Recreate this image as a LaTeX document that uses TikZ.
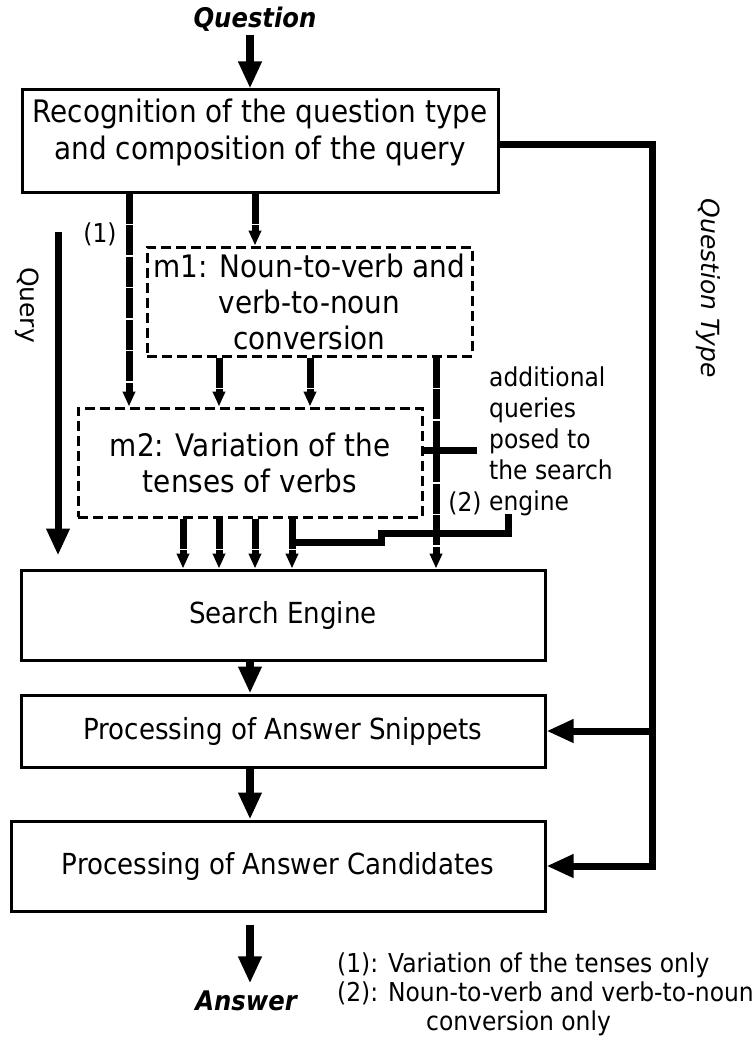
\documentclass[tikz,border=0pt]{standalone}
\usepackage{fontspec}
\setmainfont{DejaVu Sans}[FakeStretch=0.9]
\newfontfamily\vertfont{DejaVu Sans}
\usetikzlibrary{arrows.meta}

\tikzset{
  block/.style={draw, line width=3pt, inner sep=0pt, align=center, font=\fontsize{29}{36}\selectfont},
  dblock/.style={block, dash pattern=on 10pt off 5pt, font=\fontsize{31}{36}\selectfont},
  btext/.style={align=center, inner sep=0pt, font=\fontsize{31}{37}\selectfont},
  small/.style={align=left, inner sep=0pt, font=\fontsize{26}{31}\selectfont},
  io/.style={font=\fontsize{27}{30}\selectfont\bfseries\itshape},
  bigarrow/.style={line width=8pt, -{Triangle[length=27pt,width=22pt]}},
  darrow/.style={line width=7pt, dash pattern=on 30pt off 1.5pt, -{Triangle[length=15pt,width=12pt]}},
  wire/.style={line width=7pt}
}

\begin{document}
\begin{tikzpicture}[x=1pt,y=-1pt]
\useasboundingbox (0,0) rectangle (752,1038);

% blocks
\node[block, minimum width=476pt, minimum height=102pt] (rec) at (260,141) {};
\node[btext] (rectxt) at (260,132) {Recognition of the question type\\and composition of the query};
\node[dblock, minimum width=325pt, minimum height=109pt] (mone) at (309.5,301.5) {m1: Noun-to-verb and\\verb-to-noun\\conversion};
\node[dblock, minimum width=344pt, minimum height=109pt] (mtwo) at (250,462.5) {m2: Variation of the\\tenses of verbs};
\node[block, minimum width=524pt, minimum height=90pt] (engine) at (283,615) {Search Engine};
\node[block, minimum width=524pt, minimum height=72pt] (snip) at (283,731) {Processing of Answer Snippets};
\node[block, minimum width=534pt, minimum height=90pt] (cand) at (278,866) {Processing of Answer Candidates};

% texts
\node[io] (question) at (255,19) {Question};
\node[io] (answer) at (246,1001) {Answer};
\node[font=\vertfont\fontsize{25}{30}\selectfont, rotate=-90] (query) at (27,305) {Query};
\node[font=\vertfont\itshape\fontsize{25}{30}\selectfont, rotate=-90] (qtype) at (708,288) {Question Type};
\node[small] (one) at (100,234) {(1)};
\node[small] (two) at (465,503) {(2)};
\node[small, anchor=north west] (addq) at (489,367) {additional\\queries\\posed to\\the search\\engine};
\node[small, anchor=north west, font=\fontsize{26}{29}\selectfont] (legend) at (337,953) {(1): Variation of the tenses only\\(2): Noun-to-verb and verb-to-noun\\\hspace*{89pt}conversion only};

% main flow
\draw[bigarrow] ([xshift=-5pt]question.south) -- ([xshift=-10pt]rec.north);
\draw[bigarrow] ([xshift=-33pt]engine.south) -- ([xshift=-33pt]snip.north);
\draw[bigarrow] ([xshift=-33pt]snip.south) -- ([xshift=-28pt]cand.north);
\draw[bigarrow, shorten >=4pt] ([xshift=-28pt,yshift=-12pt]cand.south) -- ([xshift=4pt]answer.north);

% query
\coordinate (qtop) at (58,232);
\draw[bigarrow, line width=7pt, shorten >=13pt] (qtop) -- (qtop |- engine.north);

% question type
\coordinate (qt) at (652,0);
\draw[bigarrow, line width=7pt] ([yshift=-3pt]rec.east) -| (qt |- cand.east) -- (cand.east);
\draw[bigarrow, line width=7pt] (qt |- snip.east) -- (snip.east);

% modules
\draw[darrow] ([xshift=-131pt]rec.south) -- ([xshift=-131pt]rec.south |- mtwo.north);
\draw[darrow] ([xshift=-5pt]rec.south) -- ([xshift=-5pt]rec.south |- mone.north);
\foreach \dx in {-90.5,0.5}
  \draw[darrow] ([xshift=\dx pt]mone.south) -- ([xshift=\dx pt]mone.south |- mtwo.north);
\draw[darrow] ([xshift=126.5pt]mone.south) -- ([xshift=126.5pt]mone.south |- engine.north);
\foreach \dx in {-67,-31,5,42}
  \draw[darrow] ([xshift=\dx pt]mtwo.south) -- ([xshift=\dx pt]mtwo.south |- engine.north);

% additional queries
\draw[wire, shorten >=12pt] ([yshift=12.5pt]mtwo.east) -- ([yshift=12.5pt]mtwo.east -| addq.west);
\coordinate (eng) at (508,514);
\draw[wire] (eng) -- ++(0,19) -- ++(-127,0) -- ++(0,9) -- ++(-89,0);

\end{tikzpicture}
\end{document}
